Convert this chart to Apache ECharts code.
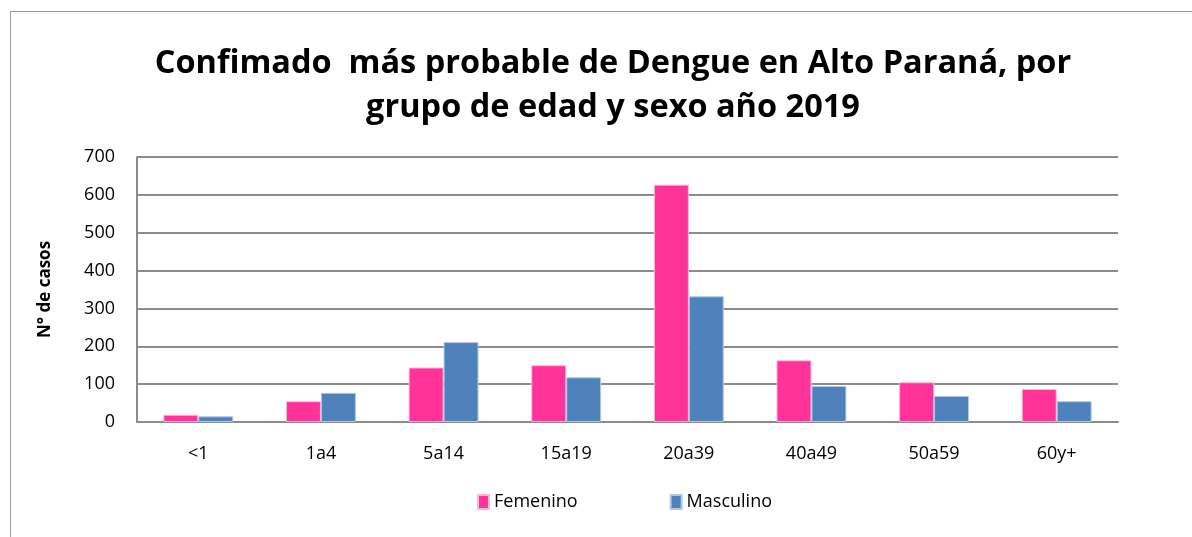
<!DOCTYPE html>
<html>
<head>
<meta charset="utf-8">
<script src="https://cdn.jsdelivr.net/npm/echarts@6/dist/echarts.min.js"></script>
<style>
  html, body { margin: 0; padding: 0; background: #fff; }
  #chart { width: 1192px; height: 537px; }
  #frame { position: absolute; left: 10px; top: 11px; width: 1190px; height: 540px; border: 1px solid #999; box-sizing: border-box; }
</style>
</head>
<body>
<div id="frame"></div>
<div id="chart" style="position:absolute;left:0;top:0;"></div>
<script>
var categories = ['<1', '1a4', '5a14', '15a19', '20a39', '40a49', '50a59', '60y+'];
var femenino = [19, 55, 144, 150, 627, 163, 105, 87];
var masculino = [15, 77, 211, 118, 332, 95, 69, 55];
var yTicks = [0, 700, 100];

var font = '"Open Sans", sans-serif';

var chart = echarts.init(document.getElementById('chart'));
var opt = {
    animation: false,
    title: {
        text: 'Confimado  más probable de Dengue en Alto Paraná, por\ngrupo de edad y sexo año 2019',
        left: 608,
        textAlign: 'center',
        top: 37,
        textStyle: {
            fontFamily: font,
            fontWeight: 'bold',
            fontSize: 32.5,
            lineHeight: 44,
            color: '#000'
        }
    },
    legend: {
        data: ['Femenino', 'Masculino'],
        left: 472,
        top: 488,
        itemWidth: 11,
        itemHeight: 14,
        itemGap: 92,
        icon: 'rect',
        textStyle: { fontFamily: font, fontSize: 18, color: '#000' }
    },
    grid: { left: 137, right: 74, top: 157, bottom: 115 },
    xAxis: {
        type: 'category',
        data: categories,
        axisLine: { lineStyle: { color: '#8c8c8c', width: 2 } },
        axisTick: { show: false },
        axisLabel: { fontFamily: font, fontSize: 18, color: '#000', margin: 23 }
    },
    yAxis: {
        type: 'value',
        min: yTicks[0],
        max: yTicks[1],
        interval: yTicks[2],
        name: 'N° de casos',
        nameLocation: 'middle',
        nameGap: 83,
        nameTextStyle: { fontFamily: font, fontWeight: 'bold', fontSize: 17, color: '#000' },
        axisLine: { show: true, lineStyle: { color: '#8c8c8c', width: 2 } },
        axisTick: { show: false },
        axisLabel: { fontFamily: font, fontSize: 18, color: '#000', margin: 22 },
        splitLine: { lineStyle: { color: '#8c8c8c', width: 2 } }
    },
    series: [
        {
            name: 'Femenino',
            type: 'bar',
            data: femenino,
            barGap: '0%',
            barCategoryGap: '43%',
            itemStyle: { color: '#FF3399', borderColor: '#ffb3d9', borderWidth: 1 }
        },
        {
            name: 'Masculino',
            type: 'bar',
            data: masculino,
            itemStyle: { color: '#4F81BD', borderColor: '#b0c8e8', borderWidth: 1 }
        }
    ]
};
chart.setOption(opt);
</script>
</body>
</html>
